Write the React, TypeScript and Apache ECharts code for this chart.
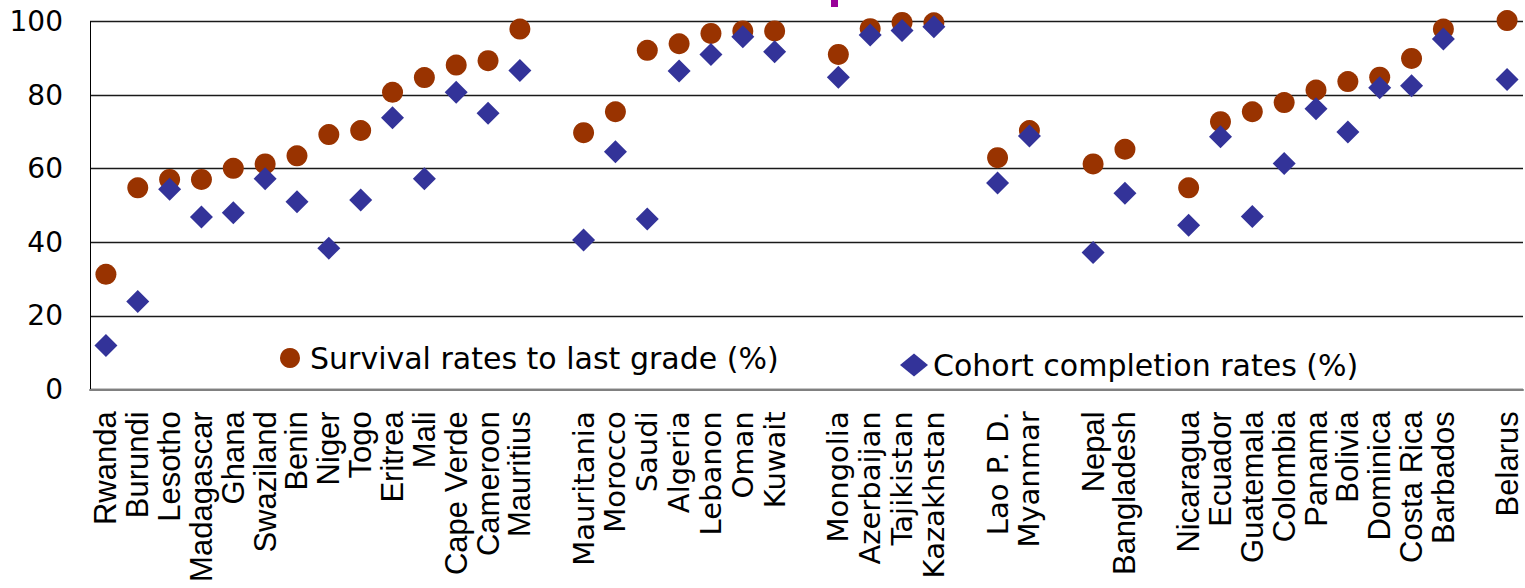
import React, { useEffect, useRef } from "react";
import * as echarts from "echarts";

// Categories (gapN = empty slot between regional groups)
const categories = [
  "Rwanda", "Burundi", "Lesotho", "Madagascar", "Ghana", "Swaziland", "Benin", "Niger", "Togo", "Eritrea", "Mali", "Cape Verde", "Cameroon", "Mauritius",
  "gap1",
  "Mauritania", "Morocco", "Saudi", "Algeria", "Lebanon", "Oman", "Kuwait",
  "gap2",
  "Mongolia", "Azerbaijan", "Tajikistan", "Kazakhstan",
  "gap3",
  "Lao P. D.", "Myanmar",
  "gap4",
  "Nepal", "Bangladesh",
  "gap5",
  "Nicaragua", "Ecuador", "Guatemala", "Colombia", "Panama", "Bolivia", "Dominica", "Costa Rica", "Barbados",
  "gap6",
  "Belarus",
];

// Labels drawn in the Verdana-like face in the reference
const altFontLabels = [
  "Mauritania", "Morocco", "Saudi", "Algeria", "Lebanon", "Oman", "Kuwait",
  "Mongolia", "Azerbaijan", "Tajikistan", "Kazakhstan", "Lao P. D.", "Myanmar",
];

const survivalName = "Survival rates to last grade (%)";
const cohortName = "Cohort completion rates (%)";

const survival = [
  31.3, 54.8, 57.1, 57.1, 60.1, 61.3, 63.5, 69.3, 70.4, 80.8, 84.8, 88.2, 89.4, 98.0,
  null,
  69.8, 75.5, 92.2, 94.0, 96.8, 97.5, 97.5,
  null,
  91.1, 98.1, 99.8, 99.7,
  null,
  63.0, 70.4,
  null,
  61.3, 65.3,
  null,
  54.8, 72.8, 75.5, 78.0, 81.4, 83.7, 84.9, 90.0, 98.0,
  null,
  100.3,
];

const cohort = [
  11.9, 23.9, 54.4, 46.9, 48.0, 57.3, 51.0, 38.4, 51.5, 73.9, 57.3, 80.8, 75.1, 86.7,
  null,
  40.6, 64.6, 46.3, 86.6, 91.1, 95.9, 91.8,
  null,
  84.9, 96.4, 97.6, 98.6,
  null,
  56.1, 68.9,
  null,
  37.2, 53.3,
  null,
  44.6, 68.7, 47.0, 61.4, 76.3, 70.0, 82.0, 82.6, 95.3,
  null,
  84.3,
];

const yTicks = { min: 0, max: 100, interval: 20 };

export default function App() {
  const ref = useRef<HTMLDivElement>(null);

  useEffect(() => {
    if (!ref.current) return;
    const chart = echarts.init(ref.current, null, { renderer: "svg" });
    const toData = (arr: (number | null)[]) => arr.map((v) => (v === null ? "-" : v));

    chart.setOption({
      animation: false,
      backgroundColor: "#ffffff",
      grid: { left: 90, right: 2, top: 21.7, bottom: 198.7, containLabel: false },
      xAxis: {
        type: "category",
        data: categories,
        boundaryGap: true,
        axisLine: { show: true, lineStyle: { color: "#808080", width: 2 } },
        axisTick: { show: false },
        splitLine: { show: false },
        axisLabel: {
          interval: 0,
          rotate: 90,
          margin: 22,
          color: "#000",
          formatter: (v: string) => {
            if (v.startsWith("gap")) return "";
            return altFontLabels.includes(v) ? `{b|${v}}` : `{a|${v}}`;
          },
          rich: {
            a: { fontFamily: "Liberation Sans", fontSize: 31, color: "#000" },
            b: { fontFamily: "DejaVu Sans", fontSize: 29, color: "#000" },
          },
        },
      },
      yAxis: {
        type: "value",
        min: yTicks.min,
        max: yTicks.max,
        interval: yTicks.interval,
        axisLine: { show: true, lineStyle: { color: "#000", width: 1 } },
        axisTick: { show: false },
        splitLine: { show: true, lineStyle: { color: "#1a1a1a", width: 1.3 } },
        axisLabel: {
          fontFamily: "DejaVu Sans",
          fontSize: 28,
          color: "#000",
          margin: 27,
        },
      },
      legend: [
        {
          data: [{ name: survivalName, icon: "circle" }],
          left: 280,
          top: 343,
          padding: 0,
          itemWidth: 30,
          itemHeight: 20,
          itemStyle: { opacity: 1 },
          textStyle: { fontFamily: "DejaVu Sans", fontSize: 30, color: "#000" },
        },
        {
          data: [{ name: cohortName, icon: "diamond" }],
          left: 900,
          top: 350,
          padding: 0,
          itemWidth: 28,
          itemHeight: 23,
          itemStyle: { opacity: 1 },
          textStyle: { fontFamily: "DejaVu Sans", fontSize: 30, color: "#000" },
        },
      ],
      graphic: [
        { type: "rect", shape: { x: 831, y: 0, width: 7, height: 7 }, style: { fill: "#990099" } },
      ],
      series: [
        {
          name: survivalName,
          type: "scatter",
          symbol: "circle",
          symbolSize: 21,
          clip: false,
          itemStyle: { color: "#993300", opacity: 1 },
          data: toData(survival),
        },
        {
          name: cohortName,
          type: "scatter",
          symbol: "diamond",
          symbolSize: 23,
          clip: false,
          itemStyle: { color: "#333399", opacity: 1 },
          data: toData(cohort),
        },
      ],
    });

    return () => chart.dispose();
  }, []);

  return (
    <div
      ref={ref}
      style={{ position: "absolute", left: 0, top: 0, width: 1525, height: 588 }}
    />
  );
}
